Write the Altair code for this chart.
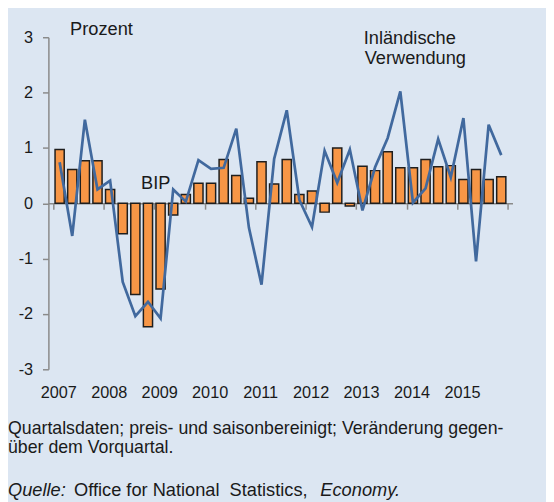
import json
import altair as alt
import pandas as pd

years = [2007, 2008, 2009, 2010, 2011, 2012, 2013, 2014, 2015]
quarters = ["Q1", "Q2", "Q3", "Q4"]
year_labels = [str(y) for y in years]

bip = [0.97, 0.61, 0.77, 0.77, 0.25, -0.55, -1.65, -2.23, -1.55, -0.21, 0.16, 0.36,
       0.36, 0.79, 0.50, 0.09, 0.75, 0.35, 0.79, 0.16, 0.22, -0.16, 1.00, -0.05,
       0.67, 0.59, 0.93, 0.64, 0.64, 0.79, 0.66, 0.68, 0.43, 0.61, 0.43, 0.48]
inl = [0.74, -0.59, 1.51, 0.25, 0.41, -1.42, -2.04, -1.78, -2.08, 0.25, 0.03, 0.78,
       0.62, 0.64, 1.35, -0.44, -1.47, 0.80, 1.68, 0.06, -0.43, 0.95, 0.37, 0.97,
       -0.13, 0.65, 1.18, 2.02, 0.01, 0.27, 1.16, 0.47, 1.54, -1.05, 1.42, 0.87]

y_ticks = [-3, -2, -1, 0, 1, 2, 3]
label_prozent = "Prozent"
label_bip = "BIP"
label_inl = ["Inländische", "Verwendung"]
note_lines = ["Quartalsdaten; preis- und saisonbereinigt; Veränderung gegen-",
              "über dem Vorquartal."]
source_parts = ["Quelle:", "Office for National \u00a0Statistics,", "Economy."]

FONT = "Liberation Sans"
BG = "#DCE6F2"
W, H = 471, 337

labels = [f"{y} {q}" for y in years for q in quarters]
df = pd.DataFrame({"idx": list(range(len(labels))), "quartal": labels,
                   "BIP": bip, "Inl": inl})

xscale = alt.Scale(domain=[0, len(labels)], nice=False, zero=False)
yscale = alt.Scale(domain=[-3, 3], nice=False)

year_ticks = [4 * i for i in range(len(years))]
label_expr = json.dumps(year_labels) + "[datum.value / 4]"

base = alt.Chart(df).transform_calculate(pos="datum.idx + 0.5")

bars = base.mark_bar(width=9.3, fill="#F79646", stroke="#1E1E1E",
                     strokeWidth=1.5).encode(
    x=alt.X("pos:Q", scale=xscale,
            axis=alt.Axis(orient="bottom", values=year_ticks, labelExpr=label_expr,
                          domain=False, ticks=False, grid=False, labelFontSize=16.5,
                          labelColor="#1A1A1A", labelFont=FONT, labelPadding=16,
                          labelOffset=5, title=None)),
    y=alt.Y("BIP:Q", scale=yscale,
            axis=alt.Axis(values=y_ticks, labelExpr="'' + datum.value", grid=False,
                          domainColor="#8A8A8A", tickColor="#8A8A8A", tickSize=6,
                          domainWidth=1.5, tickWidth=1.5,
                          labelFontSize=16.5, labelColor="#1A1A1A", labelFont=FONT,
                          labelPadding=10, title=None)),
)

line = base.mark_line(color="#41699E", strokeWidth=2.75).encode(
    x=alt.X("pos:Q", scale=xscale,
            axis=alt.Axis(orient="bottom", values=[4 * i for i in range(len(years) + 1)],
                          labels=False, domain=True, ticks=True, grid=False,
                          domainColor="#8A8A8A", tickColor="#8A8A8A", tickSize=6,
                          domainWidth=1.5, tickWidth=1.5,
                          offset=-H / 2, title=None)),
    y=alt.Y("Inl:Q", scale=yscale),
)


def txt(text, x, y, size=18.5, style="normal"):
    return alt.Chart(pd.DataFrame({"t": [text]})).mark_text(
        align="left", baseline="alphabetic", font=FONT, fontSize=size,
        fontStyle=style, color="#1A1A1A").encode(
        text="t:N", x=alt.value(x), y=alt.value(y))


texts = [
    txt(label_prozent, 22, -2),
    txt(label_bip, 94, 154),
    txt(label_inl[0], 320, 7),
    txt(label_inl[1], 321, 27.5),
    txt(note_lines[0], -41, 402.5, 18),
    txt(note_lines[1], -41, 421.5, 18),
    txt(source_parts[0], -41, 466, 18.5, "italic"),
    txt(source_parts[1], 26, 466, 18.5),
    txt(source_parts[2], 276, 466, 18.5, "italic"),
]

chart = alt.layer(bars, line, *texts).resolve_axis(x="independent").properties(
    width=W, height=H,
    autosize=alt.AutoSizeParams(type="none"),
    padding={"left": 41, "top": 26, "right": 34, "bottom": 131},
    background=BG,
).configure_view(stroke=None)

chart.save("out.html", embed_options={"renderer": "svg", "actions": False})
